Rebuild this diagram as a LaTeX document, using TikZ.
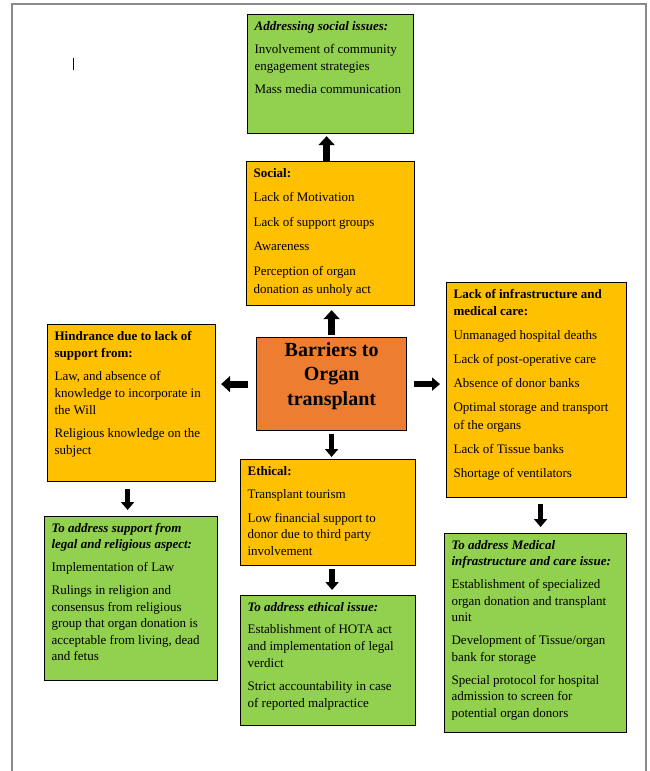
\documentclass[tikz,border=0pt]{standalone}
\usepackage{fontspec}
\setmainfont{Liberation Serif}
\usetikzlibrary{arrows.meta,calc}
\definecolor{gold}{HTML}{FFC000}
\definecolor{leaf}{HTML}{92D050}
\definecolor{core}{HTML}{ED7D31}
\definecolor{pageline}{HTML}{8A8A8A}
\newcommand{\boxtxt}[5]{\parbox[c][\dimexpr#2-5pt\relax][t]{#1}{\raggedright\fontsize{13}{#3}\selectfont\setlength{\parskip}{#4}#5}}
\tikzset{
  panel/.style={draw=black, line width=1.2pt, anchor=north west, inner xsep=7pt, inner ysep=4pt, text=black},
  tpanel/.style={panel, inner ysep=6.5pt},
  upblock/.style={line width=7pt, -{Triangle[width=16pt,length=9pt]}},
  downblock/.style={line width=5.5pt, -{Triangle[width=13pt,length=8pt]}}
}
\begin{document}
\begin{tikzpicture}[x=1pt,y=-1pt]
\useasboundingbox (0,0) rectangle (649,771);
\fill[white] (0,0) rectangle (649,771);
% page frame
\draw[pageline, line width=2pt] (12,771) -- (12,4) -- (646,4) -- (646,771);
% text cursor mark
\draw[line width=1pt] (73,58) -- (73,70);

% top green
\node[tpanel, fill=leaf] (topg) at (247,14) {\boxtxt{152pt}{111pt}{17pt}{6pt}{%
\textbf{\textit{Addressing social issues:}}\par
Involvement of community\\ engagement strategies\par
Mass media communication}};

% social
\node[tpanel, fill=gold] (social) at (246,161) {\boxtxt{154pt}{136pt}{18pt}{6.5pt}{%
\textbf{Social:}\par
Lack of Motivation\par
Lack of support groups\par
Awareness\par
Perception of organ\\ donation as unholy act}};

% center
\node[panel, fill=core] (core) at (256,337) {\parbox[c][85pt][t]{136pt}{\centering\fontsize{20}{24.5}\selectfont\vspace*{1pt}\textbf{Barriers to\\ Organ\\ transplant}}};

% hindrance
\node[tpanel, fill=gold] (hind) at (47,324) {\boxtxt{154pt}{149pt}{17pt}{6pt}{%
\textbf{Hindrance due to lack of\\ support from:}\par
Law, and absence of\\ knowledge to incorporate in\\ the Will\par
Religious knowledge on the\\ subject}};

% right infrastructure
\node[tpanel, fill=gold] (infra) at (446,282) {\boxtxt{166pt}{207pt}{17.5pt}{6.5pt}{%
\textbf{Lack of infrastructure and\\ medical care:}\par
Unmanaged hospital deaths\par
Lack of post-operative care\par
Absence of donor banks\par
Optimal storage and transport\\ of the organs\par
Lack of Tissue banks\par
Shortage of ventilators}};

% ethical
\node[tpanel, fill=gold] (eth) at (240,459) {\boxtxt{161pt}{98pt}{16.5pt}{7pt}{%
\textbf{Ethical:}\par
Transplant tourism\par
Low financial support to\\ donor due to third party\\ involvement}};

% bottom-left green
\node[tpanel, fill=leaf] (blg) at (44,516) {\boxtxt{159pt}{156pt}{16.5pt}{6.5pt}{%
\textbf{\textit{To address support from\\ legal and religious aspect:}}\par
Implementation of Law\par
Rulings in religion and\\ consensus from religious\\ group that organ donation is\\ acceptable from living, dead\\ and fetus}};

% ethical green
\node[tpanel, fill=leaf] (ethg) at (240,595) {\boxtxt{161pt}{122pt}{17pt}{5.5pt}{%
\textbf{\textit{To address ethical issue:}}\par
Establishment of HOTA act\\ and implementation of legal\\ verdict\par
Strict accountability in case\\ of reported malpractice}};

% bottom-right green
\node[tpanel, fill=leaf] (brg) at (444,533) {\boxtxt{168pt}{191pt}{16.5pt}{6.5pt}{%
\textbf{\textit{To address Medical\\ infrastructure and care issue:}}\par
Establishment of specialized\\ organ donation and transplant\\ unit\par
Development of Tissue/organ\\ bank for storage\par
Special protocol for hospital\\ admission to screen for\\ potential organ donors}};

% connectors
\coordinate (s1) at ([xshift=-4pt]social.north);
\draw[upblock, shorten >=2pt] (s1) -- (s1 |- topg.south);
\draw[upblock, shorten <=2pt, shorten >=4pt] (core.north) -- (core.north |- social.south);
\draw[upblock, shorten <=8pt, shorten >=5pt] (core.west) -- (core.west -| hind.east);
\draw[downblock, shorten <=7pt, shorten >=6pt] (core.east) -- (core.east -| infra.west);
\draw[downblock, shorten <=3pt, shorten >=2pt] (core.south) -- (core.south |- eth.north);
\coordinate (e1) at ([xshift=4pt]eth.south);
\draw[downblock, shorten <=3pt, shorten >=5pt] (e1) -- (e1 |- ethg.north);
\coordinate (h1) at ([xshift=-4pt]hind.south);
\draw[downblock, shorten <=7pt, shorten >=6pt] (h1) -- (h1 |- blg.north);
\coordinate (r1) at ([xshift=4pt]infra.south);
\draw[downblock, shorten <=6pt, shorten >=6pt] (r1) -- (r1 |- brg.north);
\end{tikzpicture}
\end{document}
